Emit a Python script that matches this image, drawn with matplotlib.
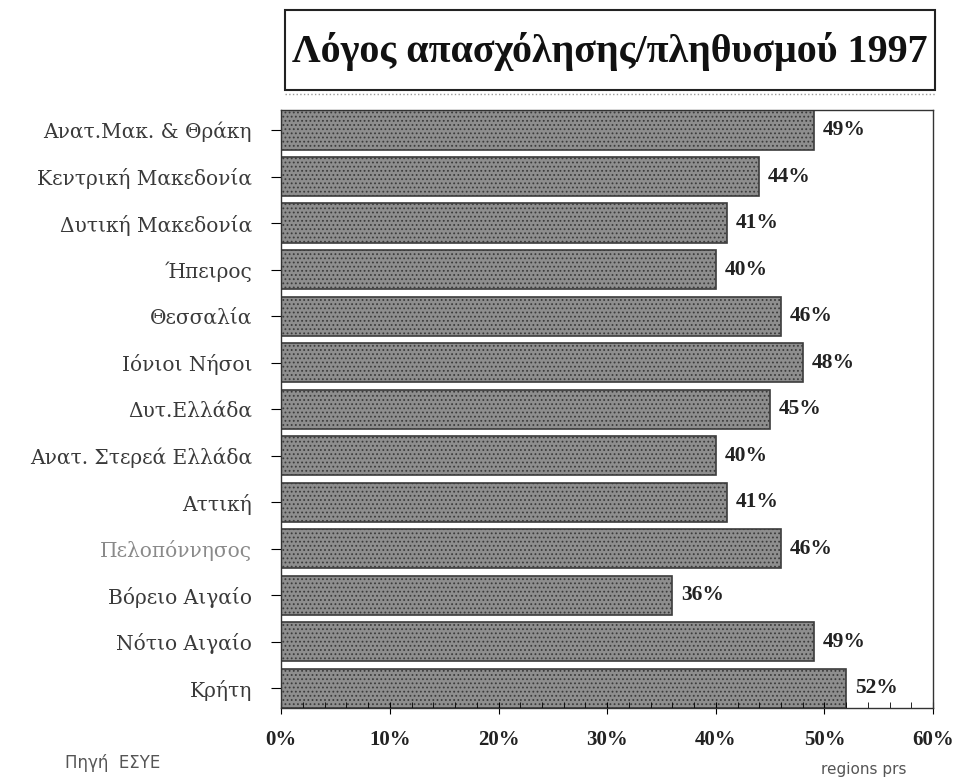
import matplotlib.pyplot as plt
from matplotlib.patches import Rectangle
from matplotlib.ticker import MultipleLocator, FuncFormatter

# regions and employment/population ratio (%)
regions = ['Ανατ.Μακ. & Θράκη', 'Κεντρική Μακεδονία', 'Δυτική Μακεδονία', 'Ήπειρος',
           'Θεσσαλία', 'Ιόνιοι Νήσοι', 'Δυτ.Ελλάδα', 'Ανατ. Στερεά Ελλάδα', 'Αττική',
           'Πελοπόννησος', 'Βόρειο Αιγαίο', 'Νότιο Αιγαίο', 'Κρήτη']
ratio = [49, 44, 41, 40, 46, 48, 45, 40, 41, 46, 36, 49, 52]
xticks = [0, 10, 20, 30, 40, 50, 60]

plt.rcParams['hatch.color'] = '#a4a4a4'
plt.rcParams['hatch.linewidth'] = 0.8

fig = plt.figure(figsize=(9.6, 7.8), dpi=100)
ax = fig.add_axes([0.293, 0.092, 0.679, 0.767])

ypos = list(range(len(regions)))
ax.barh(ypos, ratio, height=0.84, color='#8e8e8e', edgecolor='#3c3c3c',
        linewidth=1.2, hatch='....')

for y, v in zip(ypos, ratio):
    ax.text(v + 0.8, y, f'{v}%', va='center', ha='left', fontsize=15.5,
            fontweight='bold', family='Liberation Serif', color='#222222')

ax.set_ylim(len(regions) - 0.57, -0.43)
ax.set_xlim(0, 60)
ax.set_xticks(xticks)
ax.xaxis.set_major_formatter(FuncFormatter(lambda v, p: f'{int(v)}%'))
ax.xaxis.set_minor_locator(MultipleLocator(2))
ax.tick_params(axis='x', which='major', direction='inout', length=8, pad=12)
ax.tick_params(axis='x', which='minor', direction='in', length=4)
for lab in ax.get_xticklabels():
    lab.set_fontfamily('Liberation Serif')
    lab.set_fontweight('bold')
    lab.set_fontsize(15)
    lab.set_color('#222222')

ax.set_yticks(ypos)
ax.set_yticklabels(regions, fontsize=14.5, family='DejaVu Serif', color='#3a3a3a')
ax.get_yticklabels()[9].set_color('#8a8a8a')
ax.tick_params(axis='y', direction='out', length=7, pad=14)

for s in ax.spines.values():
    s.set_color('#333333')
    s.set_linewidth(1.0)

# title box
fig.patches.append(Rectangle((0.297, 0.885), 0.677, 0.102, transform=fig.transFigure,
                             facecolor='white', edgecolor='#222222', linewidth=1.5))
fig.text(0.635, 0.934, 'Λόγος απασχόλησης/πληθυσμού 1997', ha='center', va='center',
         fontsize=28.8, fontweight='bold', family='Liberation Serif', color='#111111')
fig.lines.append(plt.Line2D([0.297, 0.974], [0.879, 0.879], transform=fig.transFigure,
                            color='#999999', linewidth=1, linestyle=':'))

fig.text(0.068, 0.016, 'Πηγή  ΕΣΥΕ', fontsize=12, color='#555555', family='DejaVu Sans')
fig.text(0.855, 0.008, 'regions prs', fontsize=11, color='#555555', family='DejaVu Sans')

fig.savefig('out.png', dpi=100)
